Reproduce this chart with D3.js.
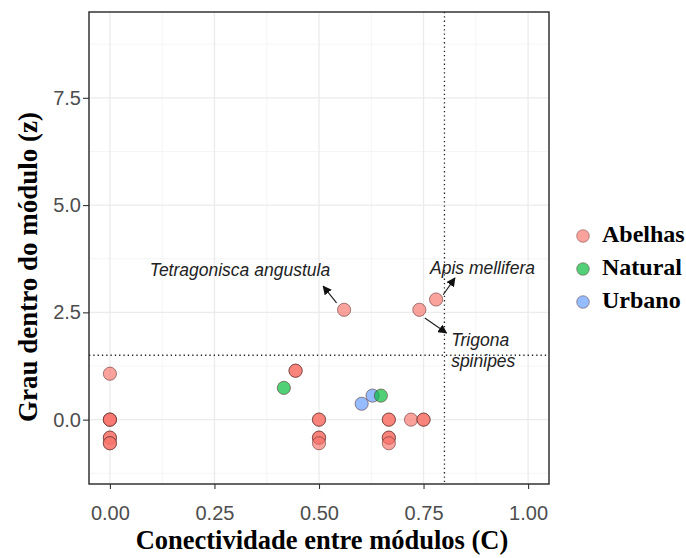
<!DOCTYPE html>
<html>
<head>
<meta charset="utf-8">
<script src="https://cdn.jsdelivr.net/npm/d3@7"></script>
<style>
  body { margin: 0; background: #fff; }
  svg { display: block; }
</style>
</head>
<body>
<div id="chart"></div>
<script>
// categories and colours
const groups = ["Abelhas", "Natural", "Urbano"];
const groupColors = ["#F8766D", "#00BA38", "#619CFF"];

// points: connectivity (C), within-module degree (z), group
const pointC = [0, 0, 0, 0, 0, 0, 0, 0,
  0.444, 0.444, 0.5, 0.5, 0.5, 0.5, 0.5,
  0.667, 0.667, 0.667, 0.667, 0.667, 0.72, 0.75, 0.75,
  0.56, 0.74, 0.78,
  0.602, 0.628,
  0.416, 0.648];
const pointZ = [1.07, 0, 0, 0, -0.42, -0.42, -0.55, -0.55,
  1.14, 1.14, 0, 0, -0.42, -0.42, -0.55,
  0, 0, -0.42, -0.42, -0.55, 0, 0, 0,
  2.56, 2.56, 2.80,
  0.37, 0.56,
  0.74, 0.56];
const pointGroup = ["Abelhas", "Abelhas", "Abelhas", "Abelhas", "Abelhas", "Abelhas", "Abelhas", "Abelhas",
  "Abelhas", "Abelhas", "Abelhas", "Abelhas", "Abelhas", "Abelhas", "Abelhas",
  "Abelhas", "Abelhas", "Abelhas", "Abelhas", "Abelhas", "Abelhas", "Abelhas", "Abelhas",
  "Abelhas", "Abelhas", "Abelhas",
  "Urbano", "Urbano",
  "Natural", "Natural"];

// axes
const xTicks = [0, 0.25, 0.5, 0.75, 1];
const xTickLabels = ["0.00", "0.25", "0.50", "0.75", "1.00"];
const yTicks = [0, 2.5, 5, 7.5];
const yTickLabels = ["0.0", "2.5", "5.0", "7.5"];
const xMinor = [0.125, 0.375, 0.625, 0.875];
const yMinor = [-1.25, 1.25, 3.75, 6.25, 8.75];
const cutC = 0.8, cutZ = 1.5;

// species labels (data units) and their arrows
const labelText = [["Tetragonisca angustula"], ["Apis mellifera"], ["Trigona", "spinipes"]];
const labelC = [0.311, 0.891, 0.816];
const labelZ = [3.34, 3.40, 1.72];
const labelAnchor = ["middle", "middle", "start"];
const arrowFrom = [[0.542, 2.72], [0.797, 2.91], [0.753, 2.37]];
const arrowTo = [[0.510, 3.11], [0.825, 3.30], [0.805, 2.02]];

const width = 686, height = 558;
const panel = {left: 89, right: 549, top: 12, bottom: 484};

const svg = d3.select("#chart").append("svg")
  .attr("width", width)
  .attr("height", height);

const x = d3.scaleLinear().domain([-0.05, 1.05]).range([panel.left, panel.right]);
const y = d3.scaleLinear().domain([-1.5, 9.5]).range([panel.bottom, panel.top]);
const color = d3.scaleOrdinal().domain(groups).range(groupColors);

// grid
const grid = svg.append("g");
grid.selectAll(".xminor").data(xMinor).join("line")
  .attr("x1", d => x(d)).attr("x2", d => x(d))
  .attr("y1", panel.top).attr("y2", panel.bottom)
  .attr("stroke", "#f2f2f2").attr("stroke-width", 0.8);
grid.selectAll(".yminor").data(yMinor).join("line")
  .attr("y1", d => y(d)).attr("y2", d => y(d))
  .attr("x1", panel.left).attr("x2", panel.right)
  .attr("stroke", "#f2f2f2").attr("stroke-width", 0.8);
grid.selectAll(".xmajor").data(xTicks).join("line")
  .attr("x1", d => x(d)).attr("x2", d => x(d))
  .attr("y1", panel.top).attr("y2", panel.bottom)
  .attr("stroke", "#ebebeb").attr("stroke-width", 1.3);
grid.selectAll(".ymajor").data(yTicks).join("line")
  .attr("y1", d => y(d)).attr("y2", d => y(d))
  .attr("x1", panel.left).attr("x2", panel.right)
  .attr("stroke", "#ebebeb").attr("stroke-width", 1.3);

// cut-off lines
svg.append("line")
  .attr("x1", x(cutC)).attr("x2", x(cutC))
  .attr("y1", panel.top).attr("y2", panel.bottom)
  .attr("stroke", "#222").attr("stroke-width", 1.3)
  .attr("stroke-dasharray", "1.3,3");
svg.append("line")
  .attr("y1", y(cutZ)).attr("y2", y(cutZ))
  .attr("x1", panel.left).attr("x2", panel.right)
  .attr("stroke", "#222").attr("stroke-width", 1.3)
  .attr("stroke-dasharray", "1.3,3");

// points
const points = pointC.map((c, i) => ({c: c, z: pointZ[i], g: pointGroup[i]}));
svg.append("g").selectAll("circle").data(points).join("circle")
  .attr("cx", d => x(d.c))
  .attr("cy", d => y(d.z))
  .attr("r", 6.6)
  .attr("fill", d => color(d.g))
  .attr("fill-opacity", 0.68)
  .attr("stroke", "#5a2a28")
  .attr("stroke-opacity", 0.55)
  .attr("stroke-width", 1);

// arrows
svg.append("defs").append("marker")
  .attr("id", "head")
  .attr("viewBox", "0 0 10 10")
  .attr("refX", 9).attr("refY", 5)
  .attr("markerWidth", 9).attr("markerHeight", 9)
  .attr("markerUnits", "userSpaceOnUse")
  .attr("orient", "auto")
  .append("path")
  .attr("d", "M0,0L10,5L0,10Z")
  .attr("fill", "#111");

svg.append("g").selectAll("line").data(arrowFrom).join("line")
  .attr("x1", d => x(d[0])).attr("y1", d => y(d[1]))
  .attr("x2", (d, i) => x(arrowTo[i][0])).attr("y2", (d, i) => y(arrowTo[i][1]))
  .attr("stroke", "#222").attr("stroke-width", 1.2)
  .attr("marker-end", "url(#head)");

// labels
const labels = svg.append("g").selectAll("text").data(labelText).join("text")
  .attr("x", (d, i) => x(labelC[i]))
  .attr("y", (d, i) => y(labelZ[i]))
  .attr("text-anchor", (d, i) => labelAnchor[i])
  .attr("font-family", "'Liberation Sans', Arial, sans-serif")
  .attr("font-style", "italic")
  .attr("font-size", 17.5)
  .attr("fill", "#222");
labels.selectAll("tspan").data(d => d).join("tspan")
  .attr("x", function() { return this.parentNode.getAttribute("x"); })
  .attr("dy", (d, i) => i === 0 ? 0 : 21)
  .text(d => d);

// panel border
svg.append("rect")
  .attr("x", panel.left).attr("y", panel.top)
  .attr("width", panel.right - panel.left)
  .attr("height", panel.bottom - panel.top)
  .attr("fill", "none")
  .attr("stroke", "#333").attr("stroke-width", 1.5);

// axes
const xAxis = svg.append("g")
  .attr("transform", `translate(0,${panel.bottom})`)
  .call(d3.axisBottom(x).tickValues(xTicks).tickFormat((d, i) => xTickLabels[i]).tickSizeOuter(0).tickSize(5).tickPadding(17));
const yAxis = svg.append("g")
  .attr("transform", `translate(${panel.left},0)`)
  .call(d3.axisLeft(y).tickValues(yTicks).tickFormat((d, i) => yTickLabels[i]).tickSizeOuter(0).tickSize(6).tickPadding(2));
[xAxis, yAxis].forEach(a => {
  a.select(".domain").remove();
  a.selectAll(".tick line").attr("stroke", "#333").attr("stroke-width", 1.1);
  a.selectAll(".tick text")
    .attr("font-family", "'Liberation Sans', Arial, sans-serif")
    .attr("font-size", 20)
    .attr("fill", "#4d4d4d");
});

// axis titles
svg.append("text")
  .attr("x", (panel.left + panel.right) / 2 + 3)
  .attr("y", 549)
  .attr("text-anchor", "middle")
  .attr("font-family", "'Liberation Serif', 'Times New Roman', serif")
  .attr("font-weight", "bold")
  .attr("font-size", 26.5)
  .attr("fill", "#000")
  .text("Conectividade entre módulos (C)");
svg.append("text")
  .attr("transform", "translate(37,267) rotate(-90)")
  .attr("text-anchor", "middle")
  .attr("font-family", "'Liberation Serif', 'Times New Roman', serif")
  .attr("font-weight", "bold")
  .attr("font-size", 27)
  .attr("fill", "#000")
  .text("Grau dentro do módulo (z)");

// legend
const legend = svg.append("g").attr("transform", "translate(583,236)");
const item = legend.selectAll("g").data(groups).join("g")
  .attr("transform", (d, i) => `translate(0,${i * 33})`);
item.append("circle")
  .attr("r", 6.3)
  .attr("fill", d => color(d))
  .attr("fill-opacity", 0.68)
  .attr("stroke", "#5a2a28")
  .attr("stroke-opacity", 0.45)
  .attr("stroke-width", 1);
item.append("text")
  .attr("x", 19)
  .attr("y", 6)
  .attr("font-family", "'Liberation Serif', 'Times New Roman', serif")
  .attr("font-weight", "bold")
  .attr("font-size", 24)
  .attr("fill", "#000")
  .text(d => d);
</script>
</body>
</html>
